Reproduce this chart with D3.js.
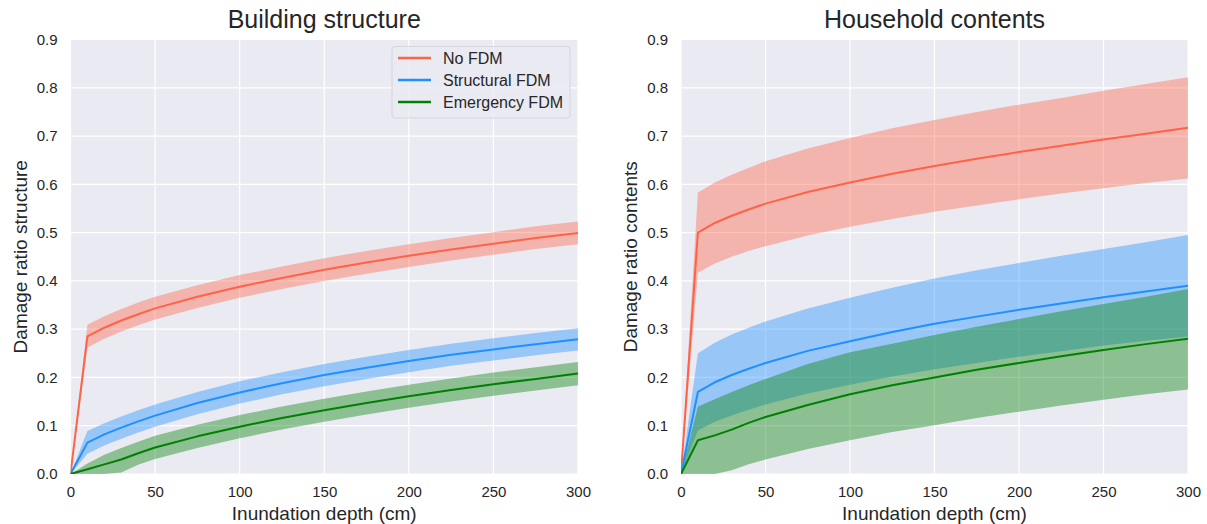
<!DOCTYPE html>
<html>
<head>
<meta charset="utf-8">
<script src="https://cdn.jsdelivr.net/npm/d3@7"></script>
<style>
  body { margin: 0; background: #fff; }
  svg { font-family: "Liberation Sans", Arial, sans-serif; }
</style>
</head>
<body>
<svg id="chart"></svg>
<script>
// inundation depth in cm, shared by every curve
var depth = [0, 10, 20, 30, 40, 50, 75, 100, 125, 150, 175, 200, 225, 250, 275, 300];

// building structure
var strNoMean  = [0, .285, .303, .318, .331, .343, .367, .388, .406, .423, .438, .452, .465, .477, .489, .499];
var strNoLow   = [0, .262, .280, .295, .308, .320, .344, .365, .383, .400, .415, .429, .442, .454, .466, .476];
var strNoHigh  = [0, .309, .327, .342, .355, .367, .391, .412, .430, .447, .462, .476, .489, .501, .513, .523];
var strStMean  = [0, .065, .082, .096, .109, .121, .147, .169, .188, .205, .220, .234, .247, .258, .269, .279];
var strStLow   = [0, .042, .059, .073, .086, .098, .124, .146, .165, .182, .197, .211, .224, .235, .246, .256];
var strStHigh  = [0, .089, .105, .119, .132, .144, .170, .192, .211, .228, .243, .257, .270, .281, .292, .302];
var strEmMean  = [0, .010, .020, .030, .043, .055, .078, .098, .116, .132, .147, .161, .174, .186, .197, .208];
var strEmLow   = [0, 0, 0, .003, .019, .031, .054, .074, .092, .108, .123, .137, .150, .162, .173, .184];
var strEmHigh  = [0, .022, .040, .054, .067, .079, .102, .122, .140, .156, .171, .185, .198, .210, .221, .232];

// household contents
var conNoMean  = [0, .500, .520, .535, .548, .560, .584, .604, .622, .638, .653, .667, .680, .693, .705, .717];
var conNoLow   = [0, .417, .436, .450, .462, .472, .494, .512, .528, .543, .556, .569, .581, .592, .603, .612];
var conNoHigh  = [0, .583, .604, .620, .634, .648, .674, .696, .716, .733, .750, .765, .779, .794, .808, .822];
var conStMean  = [0, .170, .190, .205, .218, .230, .255, .275, .294, .311, .326, .340, .353, .366, .378, .390];
var conStLow   = [0, .090, .108, .121, .133, .144, .167, .185, .202, .217, .230, .243, .254, .266, .276, .285];
var conStHigh  = [0, .250, .272, .289, .303, .316, .343, .365, .386, .405, .422, .437, .452, .466, .480, .495];
var conEmMean  = [0, .070, .080, .092, .106, .118, .143, .165, .184, .200, .216, .230, .244, .257, .269, .280];
var conEmLow   = [0, 0, 0, .008, .020, .030, .052, .070, .087, .101, .116, .129, .142, .154, .165, .175];
var conEmHigh  = [0, .140, .155, .170, .184, .197, .228, .252, .270, .288, .305, .321, .337, .352, .367, .383];

var seriesNames = ["No FDM", "Structural FDM", "Emergency FDM"];
var seriesColors = ["#ff6347", "#1e90ff", "#008000"];
var xTicks = [0, 50, 100, 150, 200, 250, 300];
var yTicks = [0, 0.1, 0.2, 0.3, 0.4, 0.5, 0.6, 0.7, 0.8, 0.9];

var screen = { width: 1207, height: 524 };

var svg = d3.select("#chart")
  .attr("width", screen.width)
  .attr("height", screen.height);

var panels = [
  {
    title: "Building structure",
    ylabel: "Damage ratio structure",
    left: 70.5, right: 578,
    legend: true,
    curves: [
      { mean: strNoMean, low: strNoLow, high: strNoHigh },
      { mean: strStMean, low: strStLow, high: strStHigh },
      { mean: strEmMean, low: strEmLow, high: strEmHigh }
    ]
  },
  {
    title: "Household contents",
    ylabel: "Damage ratio contents",
    left: 681, right: 1188,
    legend: false,
    curves: [
      { mean: conNoMean, low: conNoLow, high: conNoHigh },
      { mean: conStMean, low: conStLow, high: conStHigh },
      { mean: conEmMean, low: conEmLow, high: conEmHigh }
    ]
  }
];

var plotTop = 39.5, plotBottom = 474;

panels.forEach(function(p, pi) {
  var xScale = d3.scaleLinear().domain([0, 300]).range([p.left, p.right]);
  var yScale = d3.scaleLinear().domain([0, 0.9]).range([plotBottom, plotTop]);

  var g = svg.append("g");
  var clipId = "clip" + pi;
  g.append("clipPath").attr("id", clipId)
    .append("rect")
    .attr("x", p.left).attr("y", plotTop)
    .attr("width", p.right - p.left).attr("height", plotBottom - plotTop);

  // background
  g.append("rect")
    .attr("x", p.left).attr("y", plotTop)
    .attr("width", p.right - p.left).attr("height", plotBottom - plotTop)
    .attr("fill", "#eaeaf2");

  // grid
  g.selectAll(".gx").data(xTicks).enter().append("line")
    .attr("x1", function(d) { return xScale(d); })
    .attr("x2", function(d) { return xScale(d); })
    .attr("y1", plotTop).attr("y2", plotBottom)
    .attr("stroke", "#fff").attr("stroke-width", 1.2);
  g.selectAll(".gy").data(yTicks).enter().append("line")
    .attr("x1", p.left).attr("x2", p.right)
    .attr("y1", function(d) { return yScale(d); })
    .attr("y2", function(d) { return yScale(d); })
    .attr("stroke", "#fff").attr("stroke-width", 1.2);

  var area = d3.area()
    .x(function(d) { return xScale(d.x); })
    .y0(function(d) { return yScale(d.lo); })
    .y1(function(d) { return yScale(d.hi); });
  var line = d3.line()
    .x(function(d) { return xScale(d.x); })
    .y(function(d) { return yScale(d.y); });

  var plot = g.append("g").attr("clip-path", "url(#" + clipId + ")");

  p.curves.forEach(function(c, i) {
    var pts = depth.map(function(x, j) {
      return { x: x, y: c.mean[j], lo: c.low[j], hi: c.high[j] };
    });
    plot.append("path")
      .datum(pts)
      .attr("d", area)
      .attr("fill", seriesColors[i])
      .attr("fill-opacity", 0.4);
  });
  p.curves.forEach(function(c, i) {
    var pts = depth.map(function(x, j) {
      return { x: x, y: c.mean[j] };
    });
    plot.append("path")
      .datum(pts)
      .attr("d", line)
      .attr("fill", "none")
      .attr("stroke", seriesColors[i])
      .attr("stroke-width", 2)
      .attr("stroke-linejoin", "round");
  });

  // tick labels
  var xAxis = d3.axisBottom(xScale).tickValues(xTicks).tickSize(0).tickPadding(12);
  var yAxis = d3.axisLeft(yScale).tickValues(yTicks).tickSize(0).tickPadding(13)
    .tickFormat(d3.format(".1f"));

  var xg = g.append("g")
    .attr("transform", "translate(0," + plotBottom + ")")
    .call(xAxis);
  var yg = g.append("g")
    .attr("transform", "translate(" + p.left + ",0)")
    .call(yAxis);
  [xg, yg].forEach(function(a) {
    a.select(".domain").remove();
    a.selectAll("text")
      .attr("fill", "#262626")
      .style("font-size", "15px")
      .style("font-family", "Liberation Sans, Arial, sans-serif");
  });

  var cx = (p.left + p.right) / 2;

  g.append("text")
    .attr("x", cx).attr("y", 28)
    .attr("text-anchor", "middle")
    .attr("fill", "#262626")
    .style("font-size", "25px")
    .text(p.title);

  g.append("text")
    .attr("x", cx).attr("y", 520)
    .attr("text-anchor", "middle")
    .attr("fill", "#262626")
    .style("font-size", "19px")
    .text("Inundation depth (cm)");

  g.append("text")
    .attr("transform", "translate(" + (p.left - 44) + "," + ((plotTop + plotBottom) / 2) + ") rotate(-90)")
    .attr("text-anchor", "middle")
    .attr("fill", "#262626")
    .style("font-size", "19px")
    .text(p.ylabel);

  if (p.legend) {
    var lg = g.append("g").attr("transform", "translate(392,46.5)");
    lg.append("rect")
      .attr("width", 178).attr("height", 71.5)
      .attr("rx", 3)
      .attr("fill", "#eaeaf2").attr("fill-opacity", 0.8)
      .attr("stroke", "#d4d4dc");
    seriesNames.forEach(function(name, i) {
      var yy = 11.5 + i * 22;
      lg.append("line")
        .attr("x1", 6).attr("x2", 39)
        .attr("y1", yy).attr("y2", yy)
        .attr("stroke", seriesColors[i])
        .attr("stroke-width", 2.5);
      lg.append("text")
        .attr("x", 51).attr("y", yy + 5.5)
        .attr("fill", "#262626")
        .style("font-size", "16px")
        .text(name);
    });
  }
});
</script>
</body>
</html>
